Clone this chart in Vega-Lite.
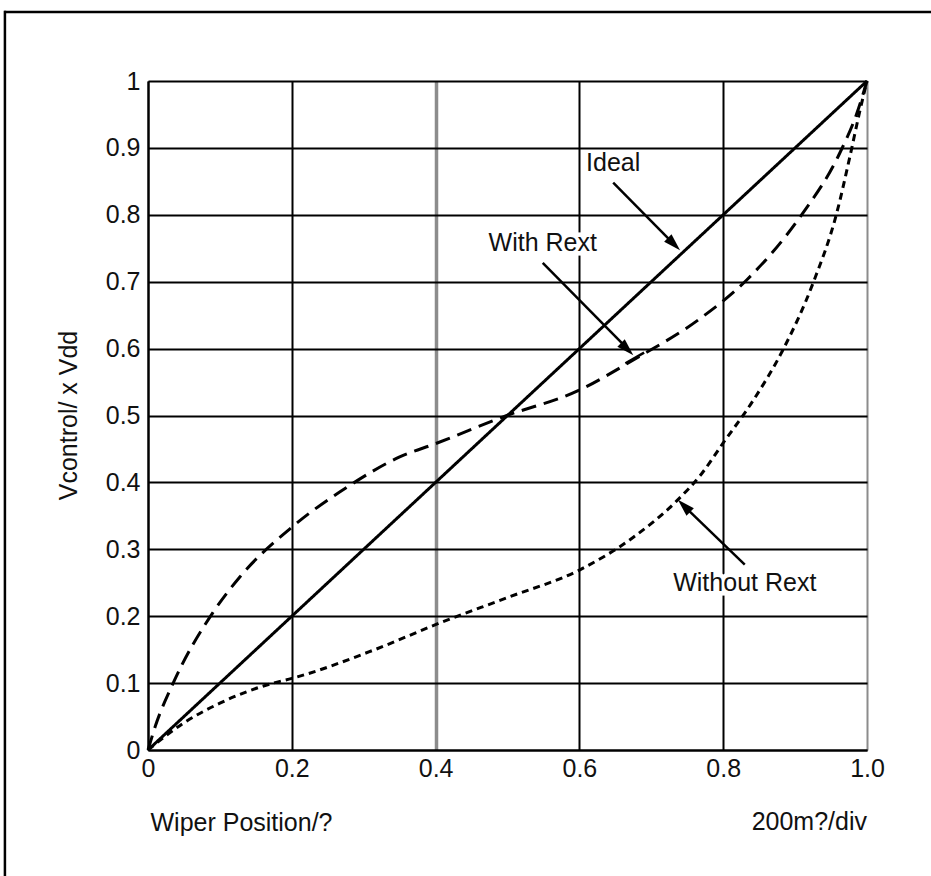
{
  "$schema": "https://vega.github.io/schema/vega-lite/v6.json",
  "autosize": {"type": "none"},
  "width": 719,
  "height": 669,
  "padding": {"left": 148, "top": 81, "right": 64, "bottom": 126},
  "background": "white",
  "config": {
    "view": {"stroke": null},
    "font": "Liberation Sans",
    "text": {"font": "Liberation Sans", "fontSize": 25, "color": "#111"}
  },
  "datasets": {
    "one": [{}],
    "curves": [
      {"series": "Ideal", "x": 0, "y": 0},
      {"series": "Ideal", "x": 1, "y": 1},
      {"series": "With Rext", "x": 0, "y": 0},
      {"series": "With Rext", "x": 0.01, "y": 0.035},
      {"series": "With Rext", "x": 0.035, "y": 0.1},
      {"series": "With Rext", "x": 0.09, "y": 0.205},
      {"series": "With Rext", "x": 0.128, "y": 0.259},
      {"series": "With Rext", "x": 0.2, "y": 0.333},
      {"series": "With Rext", "x": 0.277, "y": 0.393},
      {"series": "With Rext", "x": 0.35, "y": 0.438},
      {"series": "With Rext", "x": 0.4, "y": 0.458},
      {"series": "With Rext", "x": 0.494, "y": 0.498},
      {"series": "With Rext", "x": 0.6, "y": 0.538},
      {"series": "With Rext", "x": 0.675, "y": 0.583},
      {"series": "With Rext", "x": 0.768, "y": 0.645},
      {"series": "With Rext", "x": 0.833, "y": 0.703},
      {"series": "With Rext", "x": 0.907, "y": 0.797},
      {"series": "With Rext", "x": 0.962, "y": 0.892},
      {"series": "With Rext", "x": 0.986, "y": 0.952},
      {"series": "With Rext", "x": 1, "y": 1},
      {"series": "Without Rext", "x": 0, "y": 0},
      {"series": "Without Rext", "x": 0.049, "y": 0.04},
      {"series": "Without Rext", "x": 0.1, "y": 0.07},
      {"series": "Without Rext", "x": 0.174, "y": 0.1},
      {"series": "Without Rext", "x": 0.2, "y": 0.107},
      {"series": "Without Rext", "x": 0.313, "y": 0.149},
      {"series": "Without Rext", "x": 0.406, "y": 0.19},
      {"series": "Without Rext", "x": 0.503, "y": 0.229},
      {"series": "Without Rext", "x": 0.6, "y": 0.269},
      {"series": "Without Rext", "x": 0.675, "y": 0.318},
      {"series": "Without Rext", "x": 0.735, "y": 0.372},
      {"series": "Without Rext", "x": 0.77, "y": 0.413},
      {"series": "Without Rext", "x": 0.8, "y": 0.459},
      {"series": "Without Rext", "x": 0.842, "y": 0.523},
      {"series": "Without Rext", "x": 0.883, "y": 0.598},
      {"series": "Without Rext", "x": 0.925, "y": 0.698},
      {"series": "Without Rext", "x": 0.958, "y": 0.803},
      {"series": "Without Rext", "x": 0.976, "y": 0.886},
      {"series": "Without Rext", "x": 0.99, "y": 0.955},
      {"series": "Without Rext", "x": 1, "y": 1}
    ],
    "labels": [
      {"label": "Ideal", "lx": 0.647, "ly": 0.877},
      {"label": "With Rext", "lx": 0.549, "ly": 0.758},
      {"label": "Without Rext", "lx": 0.83, "ly": 0.25}
    ]
  },
  "layer": [
    {
      "data": {"name": "curves"},
      "mark": {"type": "line", "color": "black", "strokeWidth": 3, "interpolate": "monotone", "strokeCap": "butt"},
      "encoding": {
        "x": {
          "field": "x", "type": "quantitative",
          "scale": {"domain": [0, 1], "nice": false, "zero": false},
          "axis": {
            "values": [0, 0.2, 0.4, 0.6, 0.8, 1],
            "labelExpr": "datum.value == 0 ? '0' : format(datum.value, '.1f')",
            "grid": true,
            "gridColor": {"condition": {"test": "datum.value == 0.4 || datum.value == 1", "value": "#8c8c8c"}, "value": "black"},
            "gridWidth": {"condition": {"test": "datum.value == 0.4", "value": 3.5}, "value": 2},
            "gridOpacity": 1,
            "domain": true, "domainColor": "black", "domainWidth": 2,
            "ticks": false,
            "labelPadding": 6,
            "labelFont": "Liberation Sans", "labelFontSize": 25, "labelColor": "#111",
            "labelFlush": false, "labelOverlap": false,
            "title": "Wiper Position/?",
            "titleFont": "Liberation Sans", "titleFontSize": 25, "titleFontWeight": "normal", "titleColor": "#111",
            "titleX": 2, "titleY": 72, "titleAlign": "left", "titleBaseline": "middle", "titleAnchor": "start"
          }
        },
        "y": {
          "field": "y", "type": "quantitative",
          "scale": {"domain": [0, 1], "nice": false, "zero": false},
          "axis": {
            "values": [0, 0.1, 0.2, 0.3, 0.4, 0.5, 0.6, 0.7, 0.8, 0.9, 1],
            "labelExpr": "datum.value == 0 ? '0' : datum.value == 1 ? '1' : format(datum.value, '.1f')",
            "grid": true, "gridColor": "black", "gridWidth": 2, "gridOpacity": 1,
            "domain": true, "domainColor": "black", "domainWidth": 2,
            "ticks": false,
            "labelPadding": 8,
            "labelFont": "Liberation Sans", "labelFontSize": 25, "labelColor": "#111",
            "labelFlush": false, "labelOverlap": false,
            "title": "Vcontrol/ x Vdd",
            "titleFont": "Liberation Sans", "titleFontSize": 25, "titleFontWeight": "normal", "titleColor": "#111",
            "titleX": -80, "titleY": 334, "titleAngle": -90, "titleAlign": "center", "titleBaseline": "middle"
          }
        },
        "detail": {"field": "series"},
        "strokeDash": {
          "field": "series", "type": "nominal",
          "scale": {"domain": ["Ideal", "With Rext", "Without Rext"], "range": [[1, 0], [15, 8], [7, 5]]},
          "legend": null
        }
      }
    },
    {
      "data": {"name": "one"},
      "mark": {"type": "rule", "color": "black", "strokeWidth": 2.5, "clip": false},
      "encoding": {"x": {"datum": -0.2}, "x2": {"datum": 1.5}, "y": {"datum": 1.103}}
    },
    {
      "data": {"name": "one"},
      "mark": {"type": "rule", "color": "black", "strokeWidth": 2.5, "clip": false},
      "encoding": {"x": {"datum": -0.199}, "y": {"datum": 1.105}, "y2": {"datum": -0.4}}
    },
    {
      "data": {"name": "one"},
      "mark": {"type": "text", "align": "right", "baseline": "middle", "clip": false},
      "encoding": {"x": {"datum": 1}, "y": {"datum": -0.108}, "text": {"value": "200m?/div"}}
    },
    {
      "data": {"name": "labels"},
      "transform": [{"filter": "datum.label != 'Ideal'"}],
      "mark": {"type": "text", "align": "center", "baseline": "middle", "stroke": "white", "strokeWidth": 9, "color": "white"},
      "encoding": {"x": {"field": "lx", "type": "quantitative"}, "y": {"field": "ly", "type": "quantitative"}, "text": {"field": "label"}}
    },
    {
      "data": {"name": "labels"},
      "mark": {"type": "text", "align": "center", "baseline": "middle"},
      "encoding": {"x": {"field": "lx", "type": "quantitative"}, "y": {"field": "ly", "type": "quantitative"}, "text": {"field": "label"}}
    },
    {
      "data": {"name": "one"},
      "mark": {"type": "rule", "color": "black", "strokeWidth": 2.5},
      "encoding": {"x": {"datum": 0.647}, "y": {"datum": 0.848}, "x2": {"datum": 0.728}, "y2": {"datum": 0.76}}
    },
    {
      "data": {"name": "one"},
      "mark": {"type": "rule", "color": "black", "strokeWidth": 2.5},
      "encoding": {"x": {"datum": 0.549}, "y": {"datum": 0.728}, "x2": {"datum": 0.664}, "y2": {"datum": 0.603}}
    },
    {
      "data": {"name": "one"},
      "mark": {"type": "rule", "color": "black", "strokeWidth": 2.5},
      "encoding": {"x": {"datum": 0.664}, "y": {"datum": 0.578}, "x2": {"datum": 0.69}, "y2": {"datum": 0.594}}
    },
    {
      "data": {"name": "one"},
      "mark": {"type": "rule", "color": "black", "strokeWidth": 2.5},
      "encoding": {"x": {"datum": 0.83}, "y": {"datum": 0.277}, "x2": {"datum": 0.75}, "y2": {"datum": 0.36}}
    },
    {
      "data": {"name": "one"},
      "mark": {"type": "point", "shape": "M0,0L0.6,2L-0.6,2Z", "filled": true, "color": "black", "opacity": 1, "size": 300, "angle": 135},
      "encoding": {"x": {"datum": 0.74}, "y": {"datum": 0.747}}
    },
    {
      "data": {"name": "one"},
      "mark": {"type": "point", "shape": "M0,0L0.6,2L-0.6,2Z", "filled": true, "color": "black", "opacity": 1, "size": 300, "angle": 135},
      "encoding": {"x": {"datum": 0.675}, "y": {"datum": 0.59}}
    },
    {
      "data": {"name": "one"},
      "mark": {"type": "point", "shape": "M0,0L0.6,2L-0.6,2Z", "filled": true, "color": "black", "opacity": 1, "size": 300, "angle": 315},
      "encoding": {"x": {"datum": 0.737}, "y": {"datum": 0.374}}
    }
  ]
}
